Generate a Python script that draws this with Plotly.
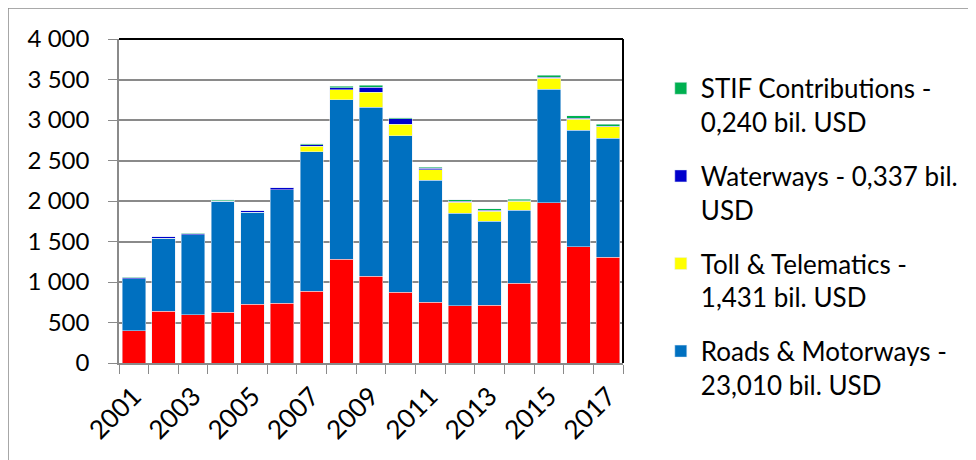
import plotly.graph_objects as go

years = [str(y) for y in range(2001, 2018)]
railways = [400, 641, 596, 625, 728, 740, 888, 1279, 1073, 876, 752, 707, 715, 983, 1978, 1435, 1308]
roads = [640, 900, 985, 1375, 1135, 1400, 1723, 1969, 2085, 1932, 1505, 1139, 1033, 900, 1402, 1439, 1468]
toll = [0, 0, 0, 0, 0, 0, 66, 128, 185, 140, 128, 140, 127, 111, 136, 136, 139]
waterways = [15, 20, 15, 5, 15, 25, 15, 21, 62, 66, 20, 12, 8, 8, 12, 12, 9]
stif = [3, 0, 5, 12, 3, 0, 15, 20, 24, 16, 13, 17, 21, 17, 25, 28, 25]

names = {
    "roads": "Roads & Motorways -<br>23,010 bil. USD",
    "toll": "Toll & Telematics -<br>1,431 bil. USD",
    "water": "Waterways - 0,337 bil.<br>USD",
    "stif": "STIF Contributions -<br>0,240 bil. USD",
}
y_tickvals = [0, 500, 1000, 1500, 2000, 2500, 3000, 3500, 4000]
y_ticktext = ["0", "500", "1 000", "1 500", "2 000", "2 500", "3 000", "3 500", "4 000"]
x_ticktext = [y if int(y) % 2 == 1 else "" for y in years]

FONT = "Lato"
fig = go.Figure()
fig.add_bar(x=years, y=railways, name="Railways", marker_color="#FF0000",
            showlegend=False, legendgroup="r", legendrank=5)
fig.add_bar(x=years, y=roads, name=names["roads"], marker_color="#0070C0",
            legendgroup="a", legendrank=4)
fig.add_bar(x=years, y=toll, name=names["toll"], marker_color="#FFFF00",
            legendgroup="b", legendrank=3)
fig.add_bar(x=years, y=waterways, name=names["water"], marker_color="#0000CC",
            legendgroup="c", legendrank=2)
fig.add_bar(x=years, y=stif, name=names["stif"], marker_color="#00B050",
            legendgroup="d", legendrank=1)

grid = "#8a8a8a"
fig.update_layout(
    width=976, height=460,
    margin=dict(l=111, r=361, t=31, b=105, pad=0),
    barmode="stack", bargap=0.21,
    paper_bgcolor="white", plot_bgcolor="white",
    font=dict(family=FONT, size=24, color="black"),
    legend=dict(x=1.075, y=0.92, xanchor="left", yanchor="top",
                traceorder="grouped", tracegroupgap=17, maxheight=440,
                valign="top",
                font=dict(family=FONT, size=26, color="black"),
                bgcolor="rgba(0,0,0,0)"),
    xaxis=dict(type="category", tickvals=years, ticktext=x_ticktext, tickangle=-45,
               tickson="boundaries", ticks="outside", ticklen=9, tickcolor=grid,
               showline=True, linecolor=grid, linewidth=1.5, showgrid=False,
               tickfont=dict(family=FONT, size=26), ticklabelstandoff=6),
    yaxis=dict(range=[0, 4000], tickvals=y_tickvals, ticktext=y_ticktext,
               ticks="outside", ticklen=9, tickcolor=grid,
               showline=True, linecolor=grid, linewidth=1.5,
               showgrid=True, gridcolor=grid, gridwidth=1.5,
               tickfont=dict(family=FONT, size=24), ticklabelstandoff=14),
    shapes=[
        dict(type="line", xref="paper", yref="paper", x0=0, x1=1, y0=1, y1=1,
             line=dict(color="black", width=2)),
        dict(type="line", xref="paper", yref="paper", x0=1, x1=1, y0=0, y1=1,
             line=dict(color="black", width=2)),
        dict(type="line", xref="paper", yref="paper", x0=-0.2202, x1=1.72,
             y0=1.0957, y1=1.0957, line=dict(color="#8c8c8c", width=1.5)),
        dict(type="line", xref="paper", yref="paper", x0=-0.2202, x1=-0.2202,
             y0=-0.4, y1=1.0957, line=dict(color="#8c8c8c", width=1.5)),
    ],
)
fig.write_html("out.html")
